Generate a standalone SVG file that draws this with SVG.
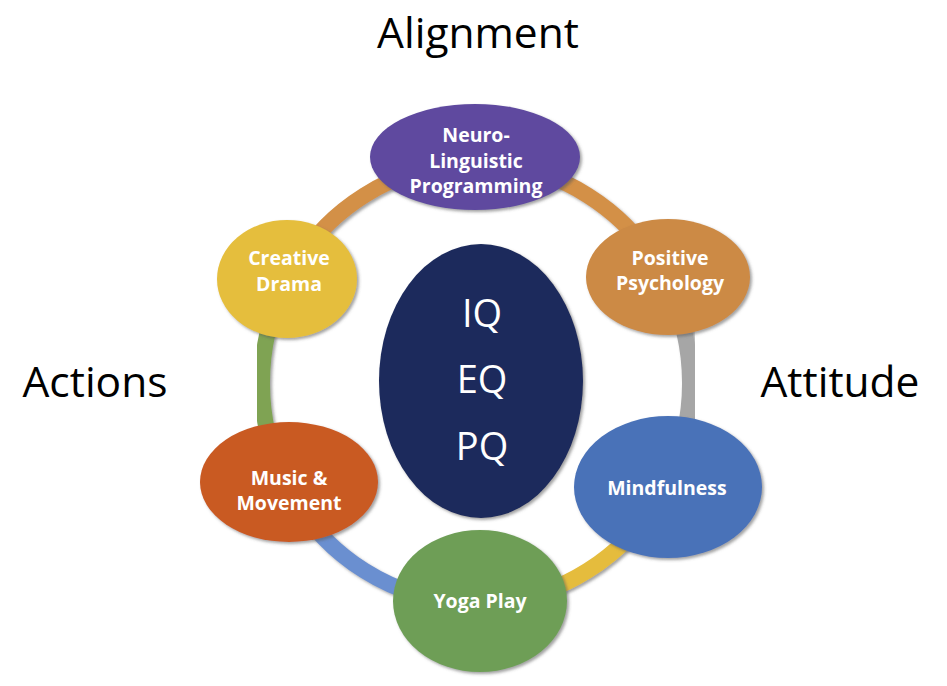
<svg xmlns="http://www.w3.org/2000/svg" width="947" height="686" viewBox="0 0 947 686">
<defs>
<filter id="sh" x="-20%" y="-20%" width="140%" height="140%">
<feDropShadow dx="2" dy="2" stdDeviation="1.5" flood-color="#555" flood-opacity="0.55"/>
</filter>
<style>
.seg{fill:none;stroke-width:16;filter:url(#sh)}
.nt{font-family:"Open Sans","Liberation Sans",sans-serif;font-weight:bold;font-size:19.5px;fill:#fff;text-anchor:middle}
.ct{font-family:"Open Sans","Liberation Sans",sans-serif;font-size:38px;fill:#fff;text-anchor:middle}
.lb{font-family:"Open Sans","Liberation Sans",sans-serif;font-size:42.5px;fill:#000}
.node{filter:url(#sh)}
</style>
</defs>
<rect width="947" height="686" fill="#fff"/>
<g id="connectors">
<path class="seg" stroke="#D39047" d="M476,163 A214,220 0 0 1 666.7,283.1"/>
<path class="seg" stroke="#A6A6A6" d="M666.7,283.1 A214,220 0 0 1 666.7,482.9"/>
<path class="seg" stroke="#E5BC3C" d="M666.7,482.9 A214,220 0 0 1 476,603"/>
<path class="seg" stroke="#6A8FD0" d="M476,603 A214,220 0 0 1 285.3,482.9"/>
<path class="seg" stroke="#7FA352" d="M285.3,482.9 A214,220 0 0 1 285.3,283.1"/>
<path class="seg" stroke="#D39047" d="M285.3,283.1 A214,220 0 0 1 476,163"/>
</g>
<g id="center">
<ellipse class="node" cx="481" cy="381" rx="102" ry="137" fill="#1B2A5C"/>
<text class="ct" x="482" y="327">IQ</text>
<text class="ct" x="482" y="393">EQ</text>
<text class="ct" x="482" y="460">PQ</text>
</g>
<g id="nlp">
<ellipse class="node" cx="475" cy="157" rx="105" ry="53" fill="#5E4A9F"/>
<text class="nt" x="476" y="142">Neuro-</text>
<text class="nt" x="476" y="168">Linguistic</text>
<text class="nt" x="476" y="193">Programming</text>
</g>
<g id="creative-drama">
<ellipse class="node" cx="287" cy="279" rx="70" ry="59" fill="#E5BE3D"/>
<text class="nt" x="289" y="265">Creative</text>
<text class="nt" x="289" y="291">Drama</text>
</g>
<g id="positive-psychology">
<ellipse class="node" cx="668" cy="277" rx="82" ry="58" fill="#CC8A45"/>
<text class="nt" x="670" y="265">Positive</text>
<text class="nt" x="670" y="290">Psychology</text>
</g>
<g id="mindfulness">
<ellipse class="node" cx="668" cy="487" rx="94" ry="71" fill="#4A72B8"/>
<text class="nt" x="667" y="495">Mindfulness</text>
</g>
<g id="yoga-play">
<ellipse class="node" cx="480" cy="601" rx="87" ry="71" fill="#6E9E57"/>
<text class="nt" x="480" y="608">Yoga Play</text>
</g>
<g id="music-movement">
<ellipse class="node" cx="289" cy="482" rx="89" ry="60" fill="#C95A24"/>
<text class="nt" x="289" y="485">Music &amp;</text>
<text class="nt" x="289" y="510">Movement</text>
</g>
<g id="labels">
<text class="lb" x="478" y="48" text-anchor="middle">Alignment</text>
<text class="lb" x="95" y="397" text-anchor="middle">Actions</text>
<text class="lb" x="840" y="397" text-anchor="middle">Attitude</text>
</g>
</svg>
